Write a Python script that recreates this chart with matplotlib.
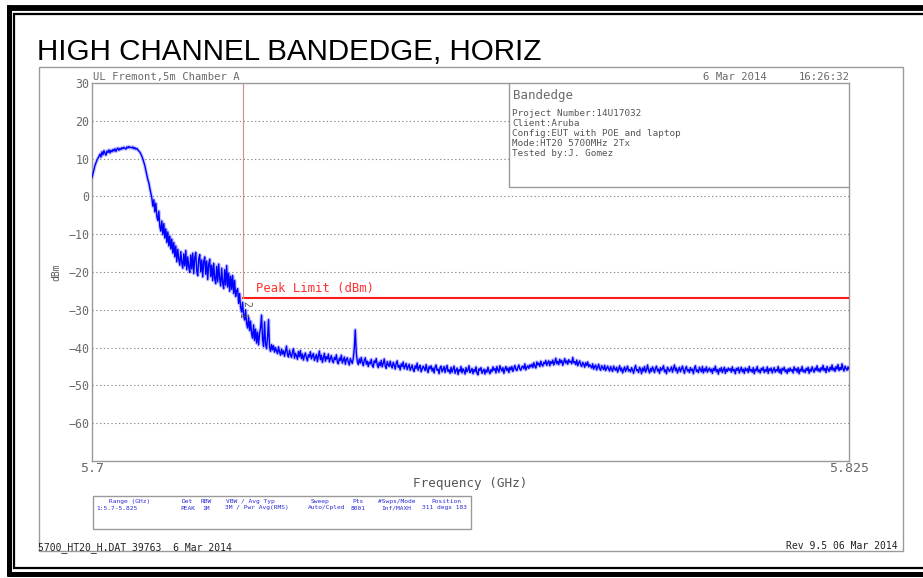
import numpy as np
import matplotlib
matplotlib.use("Agg")
import matplotlib.pyplot as plt
from matplotlib.patches import Rectangle
from matplotlib.lines import Line2D

W, H = 923, 578

# ---- sweep / scale data -------------------------------------------------
f_start, f_stop = 5.700, 5.825            # GHz
y_min, y_max = -70, 30                    # dBm
y_ticks = [30, 20, 10, 0, -10, -20, -30, -40, -50, -60]
y_tick_labels = ["30", "20", "10", "0", "−10", "−20", "−30", "−40", "−50", "−60"]
x_ticks = [5.700, 5.825]
x_tick_labels = ["5.7", "5.825"]
limit_dbm = -27.0
band_edge_ghz = 5.725

# max-hold trace level (dBm), evenly spaced across the sweep
level_dbm = [
    5.0, 6.1, 7.3, 8.2, 8.9, 9.6, 10.1, 10.6, 11.2, 10.4, 11.8, 11.0, 12.1, 11.4, 10.9, 12.0, 11.6, 12.3, 11.5, 12.2,
    11.8, 12.4, 12.0, 12.6, 11.9, 12.5, 12.8, 12.2, 12.7, 12.4, 12.9, 12.6, 13.0, 12.7, 12.5, 13.1, 12.8, 13.2, 12.9, 13.0,
    12.8, 13.1, 12.6, 12.9, 12.5, 12.7, 12.3, 12.0, 11.7, 11.2, 10.6, 9.9, 9.0, 8.1, 6.9, 5.8, 4.4, 3.6, 2.1, 0.9,
    -0.4, -2.6, -0.9, -4.1, -1.8, -5.3, -6.4, -3.9, -8.0, -9.2, -6.5, -10.1, -7.2, -11.0, -8.6, -12.2, -9.4, -13.1, -10.5, -13.9,
    -11.3, -15.0, -12.2, -16.0, -13.1, -17.3, -14.0, -16.6, -18.2, -14.6, -17.5, -19.0, -15.2, -18.4, -14.3, -19.4, -16.0, -18.6, -20.1, -15.5,
    -19.2, -15.0, -20.4, -16.2, -14.8, -19.7, -21.0, -16.5, -15.4, -20.0, -16.8, -21.3, -17.2, -16.0, -20.6, -17.1, -22.0, -18.0, -16.6, -21.2,
    -18.2, -22.3, -17.7, -21.7, -23.1, -18.5, -22.6, -17.9, -21.8, -23.7, -19.0, -22.9, -24.4, -19.4, -23.5, -18.3, -24.0, -20.3, -25.1, -21.1,
    -24.6, -20.9, -25.7, -22.2, -26.5, -25.0, -24.4, -28.3, -25.7, -29.4, -30.6, -28.0, -31.5, -32.7, -30.0, -33.6, -34.8, -31.9, -35.5, -33.0,
    -36.3, -37.5, -34.0, -38.1, -35.1, -38.8, -35.9, -39.3, -36.4, -34.7, -31.4, -37.8, -39.7, -33.2, -39.0, -40.3, -37.3, -32.6, -39.9, -41.0,
    -39.2, -40.6, -39.5, -41.2, -40.0, -40.9, -41.6, -39.8, -41.1, -42.0, -40.4, -41.7, -40.8, -42.3, -41.0, -39.6, -41.9, -42.5, -40.7, -41.8,
    -42.6, -41.2, -40.3, -42.8, -41.5, -42.2, -43.1, -41.0, -42.4, -40.8, -42.9, -41.7, -43.3, -42.1, -41.4, -42.7, -43.5, -41.9, -42.5, -41.1,
    -43.0, -42.2, -41.6, -43.4, -42.6, -41.8, -43.7, -42.3, -40.9, -43.2, -42.0, -43.9, -42.7, -41.5, -43.6, -42.4, -43.0, -41.7, -43.8, -42.9,
    -42.1, -43.5, -44.0, -42.6, -43.2, -41.9, -43.8, -44.3, -42.8, -43.4, -42.0, -44.1, -43.3, -42.5, -44.4, -43.1, -42.7, -43.9, -44.6, -42.9,
    -43.6, -44.2, -42.8, -40.1, -35.3, -41.5, -43.7, -44.5, -43.0, -44.1, -42.6, -43.9, -44.8, -43.3, -42.7, -44.4, -43.6, -45.0, -43.8, -44.3,
    -43.1, -44.7, -45.2, -43.5, -44.0, -42.9, -44.6, -45.3, -43.9, -44.8, -43.4, -45.1, -44.2, -43.0, -44.9, -45.5, -43.7, -44.5, -45.0, -43.6,
    -44.8, -45.4, -43.9, -44.6, -45.7, -44.1, -43.5, -45.2, -44.7, -45.9, -44.3, -45.0, -43.8, -45.6, -44.9, -44.2, -45.8, -45.1, -44.4, -46.0,
    -45.3, -44.6, -45.9, -46.3, -44.8, -45.5, -44.1, -46.0, -45.2, -44.7, -46.4, -45.7, -44.9, -45.4, -46.1, -44.5, -45.8, -46.6, -45.0, -45.6,
    -44.8, -46.2, -45.4, -46.7, -45.1, -44.6, -46.0, -45.7, -46.9, -45.3, -44.9, -46.4, -45.8, -45.0, -46.6, -45.5, -44.7, -46.3, -45.9, -46.8,
    -45.2, -46.5, -45.7, -44.9, -46.8, -46.0, -45.4, -47.1, -45.8, -46.3, -45.0, -46.7, -45.6, -46.1, -47.0, -45.3, -46.4, -45.9, -44.8, -46.6,
    -46.2, -45.5, -46.9, -45.8, -46.4, -45.1, -46.7, -47.2, -45.6, -46.0, -45.3, -46.8, -46.2, -45.7, -47.0, -45.9, -46.5, -45.2, -46.3, -46.9,
    -45.8, -46.4, -45.1, -46.0, -45.5, -46.7, -45.0, -45.9, -46.5, -44.8, -45.6, -46.2, -45.3, -46.8, -45.7, -45.0, -46.1, -45.4, -46.6, -45.2,
    -45.9, -45.0, -46.3, -45.5, -44.7, -45.8, -46.1, -45.2, -44.6, -45.7, -46.0, -45.1, -44.9, -45.6, -44.3, -45.9, -45.2, -44.8, -45.5, -44.6,
    -45.1, -44.4, -45.3, -44.0, -44.9, -45.4, -43.8, -44.6, -44.1, -45.0, -43.6, -44.5, -44.9, -43.9, -44.3, -43.4, -44.7, -44.0, -43.5, -44.8,
    -43.7, -44.2, -43.3, -44.6, -43.9, -42.8, -44.3, -43.6, -44.5, -43.1, -44.0, -43.4, -44.7, -43.8, -42.9, -44.1, -43.5, -44.4, -43.2, -43.9,
    -43.6, -44.3, -42.6, -44.0, -43.7, -44.5, -43.3, -44.8, -44.1, -43.5, -44.6, -45.0, -43.9, -44.4, -45.2, -44.0, -44.7, -43.8, -45.1, -44.5,
    -44.9, -45.4, -44.3, -45.7, -45.0, -44.6, -45.9, -45.2, -44.4, -45.6, -46.0, -44.8, -45.3, -45.8, -44.7, -46.1, -45.5, -44.9, -45.7, -46.2,
    -45.0, -45.8, -46.3, -44.9, -45.6, -46.0, -45.2, -46.5, -45.7, -44.8, -46.1, -45.4, -46.7, -45.9, -45.1, -46.3, -45.6, -44.9, -46.2, -45.8,
    -46.4, -45.3, -45.9, -46.8, -45.5, -44.7, -46.1, -45.8, -46.6, -45.2, -45.7, -46.9, -45.4, -46.2, -45.0, -46.5, -45.9, -44.6, -46.0, -46.7,
    -45.5, -46.3, -45.1, -45.8, -46.6, -45.4, -44.9, -46.2, -45.7, -46.8, -45.3, -46.0, -45.6, -44.8, -46.4, -45.9, -46.9, -45.2, -45.7, -46.3,
    -45.8, -45.1, -46.5, -45.6, -44.6, -46.1, -45.4, -46.7, -45.9, -45.2, -46.4, -45.7, -44.9, -46.0, -46.8, -45.5, -45.0, -46.2, -45.8, -46.6,
    -45.3, -46.1, -45.7, -46.9, -45.4, -44.8, -46.3, -45.9, -46.6, -45.2, -45.8, -46.4, -45.0, -46.7, -45.6, -46.2, -45.1, -46.5, -45.9, -45.4,
    -46.3, -45.7, -46.8, -45.5, -46.1, -44.9, -46.4, -45.8, -47.0, -45.6, -46.2, -45.3, -46.6, -45.9, -45.2, -46.8, -45.7, -46.3, -45.4, -46.0,
    -45.6, -46.5, -45.1, -46.2, -45.8, -46.9, -45.5, -46.0, -45.3, -46.7, -45.9, -45.2, -46.4, -45.7, -46.8, -45.4, -46.1, -45.6, -46.6, -45.0,
    -46.2, -45.8, -46.5, -45.3, -46.9, -45.7, -46.1, -45.0, -46.4, -45.9, -46.7, -45.5, -46.0, -45.2, -46.6, -45.8, -46.3, -45.1, -46.8, -45.6,
    -46.1, -45.4, -46.7, -45.9, -45.3, -46.5, -45.8, -46.2, -45.0, -46.6, -45.7, -46.9, -45.5, -46.0, -45.2, -46.4, -45.9, -46.8, -45.6, -46.3,
    -45.4, -46.2, -45.8, -46.7, -45.1, -46.0, -45.6, -46.5, -45.3, -46.9, -45.7, -46.2, -45.0, -46.4, -45.9, -46.6, -45.5, -46.1, -45.2, -46.8,
    -45.7, -46.3, -45.1, -45.9, -46.5, -45.4, -46.0, -44.8, -46.2, -45.6, -46.4, -45.3, -45.9, -44.7, -46.1, -45.5, -46.6, -45.0, -45.8, -46.3,
    -45.2, -45.9, -44.6, -46.0, -45.4, -46.3, -45.0, -45.7, -44.5, -46.1, -45.3, -45.8, -44.3, -45.6, -46.2, -44.9, -45.5, -46.0, -45.1, -45.7,
]
freq_ghz = np.linspace(f_start, f_stop, len(level_dbm))

# ---- header / footer text ------------------------------------------------
title = "HIGH CHANNEL BANDEDGE, HORIZ"
site = "UL Fremont,5m Chamber A"
date_str = "6 Mar 2014"
time_str = "16:26:32"
info_title = "Bandedge"
info_lines = [
    "Project Number:14U17032",
    "Client:Aruba",
    "Config:EUT with POE and laptop",
    "Mode:HT20 5700MHz 2Tx",
    "Tested by:J. Gomez",
]
table_headers = ["Range (GHz)", "Det", "RBW", "VBW / Avg Typ", "Sweep", "Pts", "#Swps/Mode", "Position"]
table_values = ["1:5.7-5.825", "PEAK", "1M", "3M / Pwr Avg(RMS)", "Auto/Cpled", "8001", "Inf/MAXH", "311 degs 183"]
footer_left = "5700_HT20_H.DAT 39763  6 Mar 2014"
footer_right = "Rev 9.5 06 Mar 2014"

MONO = "DejaVu Sans Mono"
GRAY_TXT = "#6a6a6a"
GRAY_LINE = "#9a9a9a"
TABLE_BLUE = "#2b2bd6"

fig = plt.figure(figsize=(W / 100, H / 100), dpi=100)
fig.patch.set_facecolor("white")


def fx(x):
    return x / W


def fy(y):
    return 1 - y / H


def ftext(x, y, s, **kw):
    kw.setdefault("family", MONO)
    fig.text(fx(x), fy(y), s, **kw)


# ---- page frame ----------------------------------------------------------
def hline(y, x0, x1, lw, color="black"):
    fig.add_artist(Line2D([fx(x0), fx(x1)], [fy(y), fy(y)], lw=lw, color=color,
                          solid_capstyle="butt"))


def vline(x, y0, y1, lw, color="black"):
    fig.add_artist(Line2D([fx(x), fx(x)], [fy(y0), fy(y1)], lw=lw, color=color,
                          solid_capstyle="butt"))


hline(7.5, 7, 923, 4.2)
hline(14, 13, 923, 1.6)
vline(9, 5, 576, 3.6)
vline(14.2, 13, 569, 1.6)
hline(568, 13, 923, 1.6)
hline(573.5, 7, 923, 3.6)

# grey plot window
fig.add_artist(Rectangle((fx(38.5), fy(551)), (903 - 38.5) / W, (551 - 67) / H,
                         fill=False, edgecolor=GRAY_LINE, lw=1.0))

# ---- axes ----------------------------------------------------------------
ax = fig.add_axes([fx(92), fy(461), 757 / W, 378 / H])
ax.set_xlim(f_start, f_stop)
ax.set_ylim(y_min, y_max)
for sp in ax.spines.values():
    sp.set_color(GRAY_LINE)
    sp.set_linewidth(1.0)

ax.set_yticks(y_ticks)
ax.set_yticklabels(y_tick_labels, family=MONO, fontsize=8.4, color=GRAY_TXT)
ax.set_xticks(x_ticks)
ax.set_xticklabels(x_tick_labels, family=MONO, fontsize=9.5, color=GRAY_TXT)
ax.tick_params(axis="both", length=0)
ax.tick_params(axis="y", pad=2)
ax.tick_params(axis="x", pad=1.0)
ax.yaxis.grid(True, color="#8a8a8a", linestyle=(0, (1.2, 2.2)), lw=0.8)
ax.set_axisbelow(True)

ax.set_xlabel("Frequency (GHz)", family=MONO, fontsize=9.1, color="#555555", labelpad=1)
ax.set_ylabel("dBm", family=MONO, fontsize=7, color="#555555", labelpad=5)

# trace
ax.plot(freq_ghz, level_dbm, color="#8c8cff", lw=2.6, alpha=0.5, zorder=2)
ax.plot(freq_ghz, level_dbm, color="#0000ff", lw=1.0, zorder=3)

# limit line and band-edge marker
ax.plot([band_edge_ghz, f_stop], [limit_dbm, limit_dbm], color="#ff1a1a", lw=1.5, zorder=4)
ax.plot([band_edge_ghz, band_edge_ghz], [limit_dbm, y_max], color="#d88a8a", lw=0.8, zorder=4)
ax.text(band_edge_ghz + 0.0021, limit_dbm + 1.0, "Peak Limit (dBm)", family=MONO,
        fontsize=8.8, color="#ff3030", va="bottom", ha="left", zorder=5)
ax.text(band_edge_ghz + 0.0004, limit_dbm - 1.4, "2", family=MONO, fontsize=7,
        color="#555555", rotation=270, ha="center", va="center", zorder=5)
ax.text(band_edge_ghz - 0.0002, limit_dbm - 4.6, "1", family=MONO, fontsize=7,
        color="#555555", rotation=270, ha="center", va="center", zorder=5)

# info box
box_x0 = (509 - 92) / 757
box_y0 = (461 - 187) / 378
ax.add_patch(Rectangle((box_x0, box_y0), 1 - box_x0, 1 - box_y0, transform=ax.transAxes,
                       facecolor="white", edgecolor=GRAY_LINE, lw=1.0, zorder=6))

# ---- texts ---------------------------------------------------------------
fig.text(fx(37), fy(60), title, family="Liberation Sans", fontsize=21.3, color="black",
         ha="left", va="baseline")
ftext(93, 80, site, fontsize=7.6, color=GRAY_TXT, ha="left", va="baseline")
ftext(703, 80, date_str, fontsize=7.6, color=GRAY_TXT, ha="left", va="baseline")
ftext(850, 80, time_str, fontsize=7.6, color=GRAY_TXT, ha="right", va="baseline")

ftext(513, 99, info_title, fontsize=9, color=GRAY_TXT, ha="left", va="baseline")
for i, line in enumerate(info_lines):
    ftext(512, 116.5 + 9.8 * i, line, fontsize=6.7, color="#555555", ha="left", va="baseline")

# settings table
fig.add_artist(Rectangle((fx(92.5), fy(529)), (470.5 - 92.5) / W, (529 - 496) / H,
                         fill=False, edgecolor=GRAY_LINE, lw=1.0))
header_x = [130, 187.5, 206.5, 250, 320, 358, 396.5, 446.5]
value_x = [117, 187.5, 206.5, 257, 327, 358, 396.5, 444]
for hx, h in zip(header_x, table_headers):
    ftext(hx, 501.5, h, fontsize=4.5, color=TABLE_BLUE, ha="center", va="center")
for vx, v in zip(value_x, table_values):
    ftext(vx, 508, v, fontsize=4.5, color=TABLE_BLUE, ha="center", va="center")

ftext(38, 550, footer_left, fontsize=7, color="#222222", ha="left", va="baseline")
ftext(898, 549, footer_right, fontsize=7, color="#222222", ha="right", va="baseline")

fig.savefig("out.png", dpi=100, facecolor="white")
